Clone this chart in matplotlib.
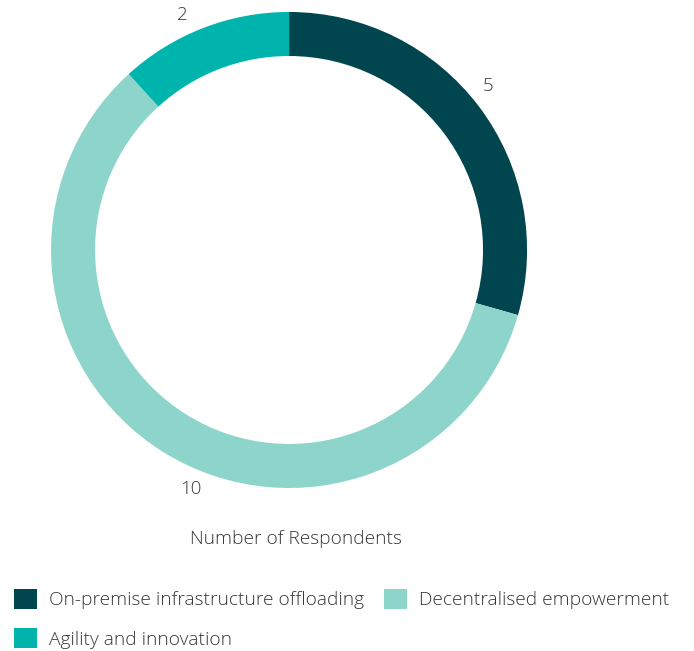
import numpy as np
import matplotlib
matplotlib.use("Agg")
import matplotlib.pyplot as plt
from matplotlib.patches import Patch

plt.rcParams['font.family'] = ['Open Sans', 'DejaVu Sans']

categories = ['On-premise infrastructure offloading', 'Decentralised empowerment',
              'Agility and innovation']
respondents = [5, 10, 2]
colors = ['#01464f', '#8dd4cb', '#00b4ae']
text_color = '#363636'

# small angular nudges (degrees) so the value labels sit clear of the ring
label_nudge = [2.4, 9.3, 3.2]

fig = plt.figure(figsize=(6.94, 6.51), dpi=100)
ax = fig.add_axes([0.0735, 0.2504, 0.686, 0.7312])

wedges, texts = ax.pie(
    respondents,
    colors=colors,
    startangle=90,
    counterclock=False,
    radius=1.0,
    labels=[str(v) for v in respondents],
    labeldistance=1.085,
    wedgeprops=dict(width=0.185, edgecolor='none'),
    textprops=dict(color=text_color, fontsize=13.5, fontweight='light'),
)
for w, t, nudge in zip(wedges, texts, label_nudge):
    ang = np.deg2rad((w.theta1 + w.theta2) / 2 + nudge)
    t.set_position((1.085 * np.cos(ang), 1.085 * np.sin(ang)))
    t.set_horizontalalignment('center')
    t.set_verticalalignment('center')

ax.set_xlim(-1, 1)
ax.set_ylim(-1, 1)
ax.set_aspect('equal')
ax.axis('off')

fig.text(296 / 694, 1 - 539 / 651, 'Number of Respondents', ha='center', va='center',
         fontsize=13.8, fontweight='light', color=text_color)

# legend fills column-wise, so order the entries to read row by row
order = [0, 2, 1]
handles = [Patch(facecolor=colors[i], edgecolor='none') for i in order]
fig.legend(
    handles, [categories[i] for i in order],
    loc='upper left',
    bbox_to_anchor=(14 / 694, 1 - 589 / 651),
    ncol=2,
    frameon=False,
    prop=dict(size=13.8, weight='light'),
    labelcolor=text_color,
    handlelength=1.22,
    handleheight=1.22,
    handletextpad=0.6,
    columnspacing=1.05,
    labelspacing=0.98,
    borderpad=0,
    borderaxespad=0,
)

fig.savefig('out.png', dpi=100)
